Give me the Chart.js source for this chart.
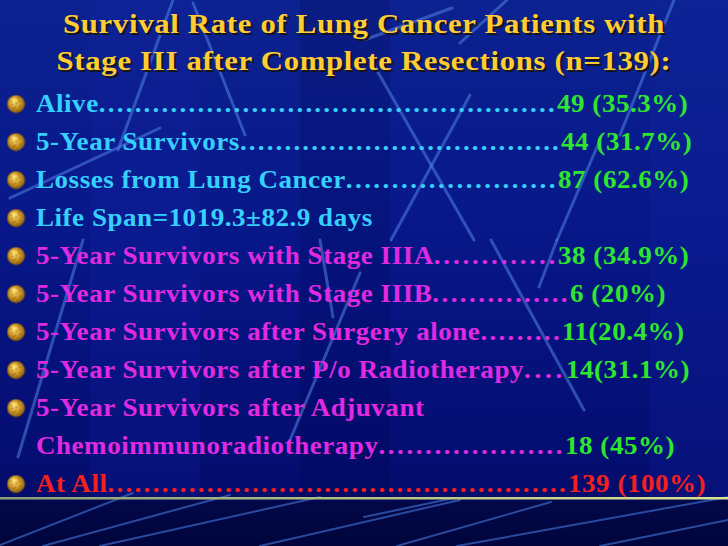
<!DOCTYPE html>
<html>
<head>
<meta charset="utf-8">
<script src="https://cdn.jsdelivr.net/npm/chart.js@4/dist/chart.umd.min.js"></script>
<style>
  html, body { margin:0; padding:0; width:728px; height:546px; overflow:hidden; background:#050f78; }
  #slide { position:absolute; left:0; top:0; width:728px; height:546px; overflow:hidden;
    background: linear-gradient(180deg, #0c2290 0%, #08188a 40%, #050f76 75%, #040c6c 91%, #020748 92%, #01053c 100%); }
  .band { position:absolute; top:0; height:498px; }
  svg.deco { position:absolute; left:0; top:0; }
  #title { position:absolute; left:0; top:5px; width:728px; text-align:center;
    font-family:"Liberation Serif","Times New Roman",serif; font-weight:bold; font-size:28px;
    line-height:37px; letter-spacing:0.6px; color:#FFCC33; text-shadow:2px 2px 0 #151515; white-space:nowrap;
    transform:scaleX(1.1); transform-origin:364px 0; }
  #bullets { position:absolute; left:0; top:85px; }
  .row { position:absolute; height:38px; line-height:38px; white-space:nowrap;
    font-family:"Liberation Serif","Times New Roman",serif; font-weight:bold; font-size:25px; letter-spacing:0.5px;
    transform:scaleX(1.08); transform-origin:0 0; }
  .dots { letter-spacing:2px; }
</style>
</head>
<body>
<div id="slide">
  <div class="band" style="left:90px;width:110px;background:rgba(20,40,170,0.18)"></div>
  <div class="band" style="left:300px;width:90px;background:rgba(0,0,60,0.15)"></div>
  <div class="band" style="left:650px;width:78px;background:rgba(20,40,170,0.2)"></div>
  <svg class="deco" width="728" height="546">
    <g stroke="rgba(80,130,225,0.55)" stroke-width="3" stroke-linecap="round" fill="none">
      <line x1="173" y1="0" x2="118" y2="150"/>
      <line x1="193" y1="3" x2="245" y2="135"/>
      <line x1="10" y1="198" x2="160" y2="128"/>
      <line x1="364" y1="40" x2="452" y2="8"/>
      <line x1="507" y1="0" x2="460" y2="43"/>
      <line x1="371" y1="60" x2="474" y2="240"/>
      <line x1="470" y1="95" x2="391" y2="240"/>
      <line x1="674" y1="0" x2="620" y2="135"/>
      <line x1="600" y1="140" x2="557" y2="240"/>
      <line x1="491" y1="240" x2="584" y2="410"/>
      <line x1="557" y1="240" x2="539" y2="287"/>
      <line x1="83" y1="240" x2="18" y2="457"/>
      <line x1="320" y1="240" x2="333" y2="317"/>
      <line x1="360" y1="273" x2="290" y2="440"/>
    </g>
    <g stroke="rgba(70,120,220,0.6)" stroke-width="2" stroke-linecap="round" fill="none">
      <line x1="0" y1="545" x2="133" y2="493"/>
      <line x1="43" y1="546" x2="230" y2="495"/>
      <line x1="100" y1="546" x2="320" y2="497"/>
      <line x1="260" y1="546" x2="460" y2="500"/>
      <line x1="364" y1="517" x2="454" y2="498"/>
      <line x1="397" y1="546" x2="551" y2="502"/>
      <line x1="457" y1="546" x2="728" y2="497"/>
      <line x1="600" y1="546" x2="728" y2="520"/>
    </g>
    <defs>
      <linearGradient id="gl" x1="0" x2="1" y1="0" y2="0">
        <stop offset="0" stop-color="#8a9f72"/>
        <stop offset="0.5" stop-color="#b4c27e"/>
        <stop offset="1" stop-color="#dce492"/>
      </linearGradient>
    </defs>
    <rect x="0" y="497" width="728" height="2.5" fill="url(#gl)"/>
  </svg>
  <div id="title">Survival Rate of Lung Cancer Patients with<br>Stage III after Complete Resections (n=139):</div>
  <canvas id="bullets" width="32" height="418"></canvas>
  <div id="rows"></div>
</div>
<script>
// ---- data ----
const rowLabels = [
  "Alive",
  "5-Year Survivors",
  "Losses from Lung Cancer",
  "Life Span=1019.3±82.9 days",
  "5-Year Survivors with Stage IIIA",
  "5-Year Survivors with Stage IIIB",
  "5-Year Survivors after Surgery alone",
  "5-Year Survivors after P/o Radiotherapy",
  "5-Year Survivors after Adjuvant",
  "Chemoimmunoradiotherapy",
  "At All"
];
const rowCounts   = [49, 44, 87, null, 38, 6, 11, 14, null, 18, 139];
const rowPercents = [35.3, 31.7, 62.6, null, 34.9, 20, 20.4, 31.1, null, 45, 100];
const rowGaps     = [" ", " ", " ", null, " ", " ", "", "", null, " ", " "];
const rowBullets  = [1, 1, 1, 1, 1, 1, 1, 1, 1, 0, 1];
const rowGroups   = ["overall", "overall", "overall", "overall", "sub", "sub", "sub", "sub", "sub", "sub", "total"];

// ---- styles / layout (not data) ----
const groupColors = { overall: "#36D0FF", sub: "#E02AE2", total: "#F5201E" };
const valueColors = { overall: "#2EE62E", sub: "#2EE62E", total: "#F5201E" };
const valueX = [557, 561, 558, null, 558, 570, 562, 566, null, 565, 568];
const textLeft = 36;
const rowScale = 1.08;
const dotSpacing = 2;

// gold bullet image
function makeBullet() {
  const c = document.createElement('canvas');
  c.width = 19; c.height = 19;
  const g = c.getContext('2d');
  const rg = g.createRadialGradient(7, 6, 1, 9.5, 9.5, 9.5);
  rg.addColorStop(0, '#fbe27a');
  rg.addColorStop(0.45, '#dca632');
  rg.addColorStop(0.85, '#a06e14');
  rg.addColorStop(1, '#6a460c');
  g.fillStyle = rg;
  g.beginPath(); g.arc(9.5, 9.5, 9, 0, Math.PI * 2); g.fill();
  g.fillStyle = 'rgba(120,80,10,0.55)';
  [[5,9],[8,12],[12,6],[13,11],[10,15],[6,13],[14,14],[9,8],[11,3],[4,6]].forEach(p => {
    g.fillRect(p[0], p[1], 1.5, 1.5);
  });
  return c;
}
const bulletImg = makeBullet();

function fillLeader(el, label, targetWidth) {
  el.textContent = label;
  const dots = document.createElement('span');
  dots.className = 'dots';
  el.appendChild(dots);
  const w = () => el.getBoundingClientRect().width;
  let d = '';
  while (true) {
    dots.textContent = d + '.';
    if (w() > targetWidth) break;
    d += '.';
  }
  dots.textContent = d;
  const rest = targetWidth - w();
  if (d.length > 0 && rest > 0) {
    dots.style.letterSpacing = (dotSpacing + rest / rowScale / d.length) + 'px';
  }
}

const rowsPlugin = {
  id: 'rowsText',
  afterDraw(chart) {
    const host = document.getElementById('rows');
    host.innerHTML = '';
    const yScale = chart.scales.y;
    const top0 = chart.canvas.offsetTop;
    rowLabels.forEach((lab, i) => {
      const yc = top0 + yScale.getPixelForValue(i);
      const left = document.createElement('div');
      left.className = 'row';
      left.style.left = textLeft + 'px';
      left.style.top = (yc - 19) + 'px';
      left.style.color = groupColors[rowGroups[i]];
      host.appendChild(left);
      if (rowCounts[i] !== null) {
        fillLeader(left, lab, valueX[i] - textLeft);
        const v = document.createElement('div');
        v.className = 'row';
        v.style.left = valueX[i] + 'px';
        v.style.top = (yc - 19) + 'px';
        v.style.color = valueColors[rowGroups[i]];
        v.textContent = rowCounts[i] + rowGaps[i] + '(' + rowPercents[i] + '%)';
        host.appendChild(v);
      } else {
        left.textContent = lab;
      }
    });
  }
};

new Chart(document.getElementById('bullets'), {
  type: 'line',
  data: {
    labels: rowLabels,
    datasets: [{
      data: rowBullets.map(b => b ? 0 : null),
      showLine: false,
      pointStyle: bulletImg,
      pointRadius: 9,
      pointHoverRadius: 9
    }]
  },
  options: {
    indexAxis: 'y',
    responsive: false,
    animation: false,
    events: [],
    layout: { padding: 0, autoPadding: false },
    plugins: { legend: { display: false }, tooltip: { enabled: false } },
    scales: {
      x: { type: 'linear', min: -1, max: 1, display: false },
      y: { type: 'category', offset: true, display: false }
    }
  },
  plugins: [rowsPlugin]
});
</script>
</body>
</html>
